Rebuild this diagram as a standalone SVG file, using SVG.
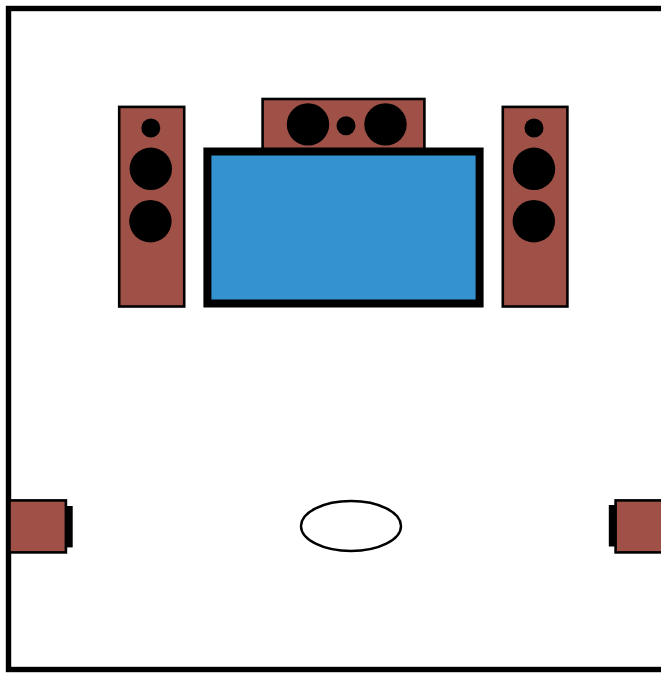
<svg xmlns="http://www.w3.org/2000/svg" width="661" height="673" viewBox="0 0 661 673">
<style>
.wood{fill:#9f5148;stroke:#000;stroke-width:2.6}
.drv{fill:#000}
.back{fill:#000}
</style>
<rect width="661" height="673" fill="#fff"/>
<rect id="room" x="8.5" y="8.5" width="670" height="661" fill="none" stroke="#000" stroke-width="5.4"/>
<g id="speaker-front-left">
<rect class="wood" x="119.2" y="106.9" width="65" height="199.6"/>
<circle class="drv" cx="150.8" cy="128" r="9.5"/>
<circle class="drv" cx="150.8" cy="168.8" r="21.2"/>
<circle class="drv" cx="150.4" cy="221.2" r="21.2"/>
</g>
<g id="speaker-center">
<rect class="wood" x="262.6" y="99" width="161.8" height="60"/>
<circle class="drv" cx="308" cy="124.4" r="21.2"/>
<circle class="drv" cx="346" cy="125.7" r="9.5"/>
<circle class="drv" cx="385.5" cy="124.4" r="21.2"/>
</g>
<g id="screen">
<rect x="207.4" y="151.5" width="272.2" height="152" fill="#3592d1" stroke="#000" stroke-width="8"/>
</g>
<g id="speaker-front-right">
<rect class="wood" x="502.8" y="106.9" width="64.6" height="199.6"/>
<circle class="drv" cx="534" cy="128" r="9.5"/>
<circle class="drv" cx="534" cy="168.8" r="21.2"/>
<circle class="drv" cx="533.8" cy="221.2" r="21.2"/>
</g>
<g id="speaker-surround-left">
<rect class="back" x="65" y="506" width="7.7" height="41.4"/>
<rect class="wood" x="9.5" y="500.4" width="56.4" height="52"/>
</g>
<g id="speaker-surround-right">
<rect class="back" x="608.8" y="505" width="7" height="41.5"/>
<rect class="wood" x="615.6" y="500.4" width="60" height="52"/>
</g>
<g id="listener">
<ellipse cx="351" cy="526" rx="50" ry="25" fill="#fff" stroke="#000" stroke-width="2.4"/>
</g>
<g id="connectors"/>
</svg>
